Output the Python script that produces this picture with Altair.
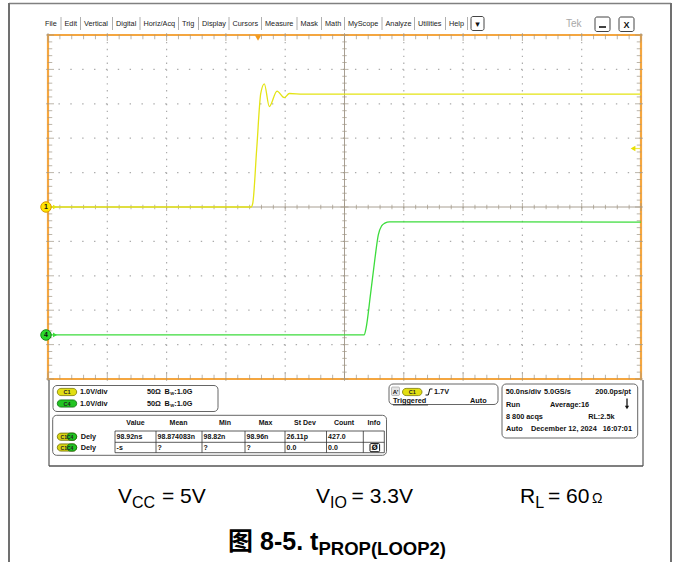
import altair as alt
import pandas as pd

# ---------------- data ----------------
c1_time_ns = [0, 171.2, 172.6, 176.0, 179.4, 182.4, 186.6, 193.1, 199.2, 203.5, 215.0, 500.0]
c1_volts = [0.0, 0.0, 0.1, 1.7, 3.3, 3.58, 2.92, 3.37, 3.18, 3.30, 3.28, 3.28]
c4_time_ns = [0, 266.5, 268.2, 272.0, 275.7, 278.5, 281.3, 284.0, 288.0, 500.0]
c4_volts = [0.0, 0.0, 0.2, 1.2, 2.23, 2.91, 3.17, 3.25, 3.29, 3.28]
channel_ids = ["1", "4"]
channel_ground_div = [0.0, -3.72]
trigger_time_ns = 177.1
trigger_level_v = 1.7

menu_items = ["File", "Edit", "Vertical", "Digital", "Horiz/Acq", "Trig", "Display",
              "Cursors", "Measure", "Mask", "Math", "MyScope", "Analyze", "Utilities", "Help"]
meas_headers = ["Value", "Mean", "Min", "Max", "St Dev", "Count", "Info"]
meas_row1 = ["98.92ns", "98.874083n", "98.82n", "98.96n", "26.11p", "427.0"]
meas_row2 = ["-s", "?", "?", "?", "0.0", "0.0"]

# ---------------- layout / style (not data) ----------------
PL, PT, W, H = 48, 35, 593, 344
SANS = "Liberation Sans, Arial, sans-serif"
CJK = "Noto Sans CJK SC"
YEL, GRN = "#E4E414", "#3CDC3C"
ORANGE = "#F4A640"
TICK = "#a09685"
GRIDC = "#ababab"
XS = alt.Scale(domain=[0, 500], nice=False, zero=False)
YS = alt.Scale(domain=[-5, 5], nice=False, zero=False)
CH_COL = alt.Scale(domain=channel_ids, range=[YEL, GRN])

off = dict(zip(channel_ids, channel_ground_div))
tr = pd.DataFrame({
    "t": c1_time_ns + c4_time_ns,
    "v": c1_volts + c4_volts,
    "ch": ["1"] * len(c1_time_ns) + ["4"] * len(c4_time_ns),
})
tr["y"] = tr["v"] + tr["ch"].map(off)

xt = pd.DataFrame({"t": list(range(0, 501, 10))})
xt["len"] = [8 if t % 50 == 0 else 4.5 for t in xt["t"]]
xt["top"], xt["bot"], xt["mid"] = 5, -5, 0
yt = pd.DataFrame({"y": [round(-5 + 0.2 * i, 1) for i in range(51)]})
yt["len"] = [8 if abs(v - round(v)) < 1e-6 else 4.5 for v in yt["y"]]
yt["left"], yt["right"], yt["mid"] = 0, 500, 250

X_ = lambda f: alt.X(f, scale=XS, axis=None)
Y_ = lambda f: alt.Y(f, scale=YS, axis=None)

plot_layers = []
# dotted graticule
plot_layers.append(alt.Chart(pd.DataFrame({"t": [50 * i for i in range(1, 10) if i != 5]}))
                   .mark_rule(color=GRIDC, strokeWidth=1.2, strokeDash=[1.4, 5.48])
                   .encode(x=X_("t:Q")))
plot_layers.append(alt.Chart(pd.DataFrame({"y": [-4, -3, -2, -1, 1, 2, 3, 4]}))
                   .mark_rule(color=GRIDC, strokeWidth=1.2, strokeDash=[1.4, 10.46])
                   .encode(y=Y_("y:Q")))
# center cross
plot_layers.append(alt.Chart(pd.DataFrame({"t": [250]})).mark_rule(color="#a89f92", strokeWidth=1)
                   .encode(x=X_("t:Q")))
plot_layers.append(alt.Chart(pd.DataFrame({"y": [0]})).mark_rule(color="#a89f92", strokeWidth=1)
                   .encode(y=Y_("y:Q")))
# tick marks on the center cross
plot_layers.append(alt.Chart(xt).mark_tick(orient="vertical", thickness=1, color=TICK)
                   .encode(x=X_("t:Q"), y=Y_("mid:Q"), size=alt.Size("len:Q", scale=None)))
plot_layers.append(alt.Chart(yt).mark_tick(orient="horizontal", thickness=1, color=TICK)
                   .encode(x=X_("mid:Q"), y=Y_("y:Q"), size=alt.Size("len:Q", scale=None)))
# tick marks on the edges
plot_layers.append(alt.Chart(xt).mark_tick(orient="vertical", thickness=1, color=TICK, yOffset=2)
                   .encode(x=X_("t:Q"), y=Y_("top:Q"), size=alt.Size("len:Q", scale=None)))
plot_layers.append(alt.Chart(xt).mark_tick(orient="vertical", thickness=1, color=TICK, yOffset=-2)
                   .encode(x=X_("t:Q"), y=Y_("bot:Q"), size=alt.Size("len:Q", scale=None)))
plot_layers.append(alt.Chart(yt).mark_tick(orient="horizontal", thickness=1, color=TICK, xOffset=2)
                   .encode(x=X_("left:Q"), y=Y_("y:Q"), size=alt.Size("len:Q", scale=None)))
plot_layers.append(alt.Chart(yt).mark_tick(orient="horizontal", thickness=1, color=TICK, xOffset=-2)
                   .encode(x=X_("right:Q"), y=Y_("y:Q"), size=alt.Size("len:Q", scale=None)))

# traces
plot_layers.append(alt.Chart(tr).mark_line(interpolate="monotone", strokeWidth=1.3)
                   .encode(x=X_("t:Q"), y=Y_("y:Q"),
                           color=alt.Color("ch:N", scale=CH_COL, legend=None)))

# channel ground markers
chdf = pd.DataFrame({"ch": channel_ids, "y": channel_ground_div, "t": [0, 0]})
plot_layers.append(alt.Chart(chdf).mark_point(shape="triangle-right", filled=True, size=22, xOffset=7, opacity=1)
                   .encode(x=X_("t:Q"), y=Y_("y:Q"),
                           color=alt.Color("ch:N", scale=CH_COL, legend=None)))
plot_layers.append(alt.Chart(chdf).mark_point(shape="circle", filled=True, size=110, xOffset=-2,
                                               strokeWidth=1, opacity=1)
                   .encode(x=X_("t:Q"), y=Y_("y:Q"),
                           fill=alt.Fill("ch:N", scale=alt.Scale(domain=channel_ids, range=["#FFE600", "#2BD92B"]), legend=None),
                           stroke=alt.Stroke("ch:N", scale=alt.Scale(domain=channel_ids, range=["#D99A00", "#178A17"]), legend=None)))
plot_layers.append(alt.Chart(chdf).mark_text(fontSize=7, fontWeight="bold", xOffset=-2, color="#111", font=SANS)
                   .encode(x=X_("t:Q"), y=Y_("y:Q"), text="ch:N"))

# trigger position (top) and trigger level (right)
trg = pd.DataFrame({"t": [trigger_time_ns], "top": [5], "lv": [trigger_level_v], "r": [500]})
plot_layers.append(alt.Chart(trg).mark_point(shape="triangle-down", filled=True, size=40, yOffset=3,
                                              color="#F29A1E", opacity=1)
                   .encode(x=X_("t:Q"), y=Y_("top:Q")))
plot_layers.append(alt.Chart(trg).mark_point(shape="triangle-left", filled=True, size=30, xOffset=-8,
                                              color="#E8E000", opacity=1)
                   .encode(x=X_("r:Q"), y=Y_("lv:Q")))
plot_layers.append(alt.Chart(trg).mark_tick(orient="horizontal", size=7, thickness=1.2, xOffset=-4,
                                             color="#E8E000")
                   .encode(x=X_("r:Q"), y=Y_("lv:Q")))

# ---------------- chrome around the scope ----------------
dummy = pd.DataFrame({"k": [0]})
chrome = []


def X(px):
    return alt.value(px - PL)


def Y(py):
    return alt.value(py - PT)


def T(s, x, y, size=7.3, bold=True, align="left", color="#111", font=SANS, baseline="middle"):
    chrome.append(alt.Chart(dummy).mark_text(
        text=s, fontSize=size, fontWeight="bold" if bold else "normal", align=align,
        baseline=baseline, color=color, font=font).encode(x=X(x), y=Y(y)))


def B(x1, y1, x2, y2, fill=None, stroke="#555", sw=1.0, r=0):
    props = dict(stroke=stroke, strokeWidth=sw, cornerRadius=r)
    if fill is None:
        props.update(fill="white", fillOpacity=0)
    else:
        props.update(fill=fill)
    chrome.append(alt.Chart(dummy).mark_rect(**props).encode(x=X(x1), x2=X(x2), y=Y(y1), y2=Y(y2)))


def L(x1, y1, x2, y2, color="#555", w=1.0):
    chrome.append(alt.Chart(dummy).mark_rule(color=color, strokeWidth=w)
                  .encode(x=X(x1), x2=X(x2), y=Y(y1), y2=Y(y2)))


def badge(x1, x2, yc, fill, stroke, label, size=5.5):
    B(x1, yc - 3.6, x2, yc + 3.6, fill, stroke, 0.8, 3.6)
    T(label, (x1 + x2) / 2, yc + 0.3, size=size, align="center", color="#222")


# outer page frame
L(9, 3.5, 671, 3.5, "#808080", 1.5)
L(9, 3, 9, 562, "#707070", 2)
L(671, 3, 671, 562, "#707070", 2)

# menu bar
menu_x = [45, 64.5, 84, 116, 143.5, 182, 202, 232.5, 265, 300.5, 325, 348, 385.5, 418, 449]
for i, (m, mx) in enumerate(zip(menu_items, menu_x)):
    T(m, mx, 23.5, size=7.3, bold=False, color="#222")
    if i > 0:
        L(mx - 3.5, 17, mx - 3.5, 30, "#9a9a9a", 0.8)
L(467.5, 17, 467.5, 30, "#9a9a9a", 0.8)
B(471, 16.5, 484, 30.5, "white", "#444", 1, 2)
T("▾", 477.5, 23.5, size=9, align="center", font="DejaVu Sans")
T("Tek", 566, 24, size=10, bold=False, color="#a8a8a8")
B(595, 17, 610, 31.5, "white", "#444", 1, 2)
L(599, 27, 606, 27, "#111", 1.6)
B(619, 17, 634, 31.5, "white", "#444", 1, 2)
T("X", 626.5, 24.5, size=9, align="center")

# bottom panel frame
L(49, 380, 49, 466, "#555", 1.2)
L(643, 380, 643, 466, "#555", 1.2)
L(49, 466, 643, 466, "#555", 1.5)

# channel settings box
B(53, 385.5, 218, 411.5, None, "#666", 1, 4)
for yc, col, stc, lab in [(392, "#E2DE12", "#7c7a00", "C1"), (403.5, "#22C422", "#0b6b0b", "C4")]:
    badge(57.3, 76.7, yc, col, stc, lab)
    T("1.0V/div", 80, yc)
    T("50Ω", 147, yc)
    T("B", 164.5, yc)
    T("W", 170.3, yc + 2.2, size=4.2)
    T(":1.0G", 174.2, yc)

# measurement box
B(52.7, 415.3, 386.5, 455.3, None, "#666", 1, 4)
for h, cx in zip(meas_headers, [135.5, 178.5, 225, 265.5, 305, 344, 374]):
    T(h, cx, 423.3, align="center", size=7)
col_edges = [115, 156, 202, 245, 285, 326.5, 363.3, 384.3]
B(115, 431, 384.3, 452.7, "white", "#333", 0.8)
L(115, 442.3, 384.3, 442.3, "#333", 0.8)
for ce in col_edges[1:-1]:
    L(ce, 431, ce, 452.7, "#333", 0.8)
for row, yc in [(meas_row1, 436.7), (meas_row2, 447.5)]:
    B(57.3, yc - 3.6, 76.7, yc + 3.6, "#D8D414", "#6d6b00", 0.8, 3.6)
    B(67, yc - 3.6, 76.7, yc + 3.6, "#22C422", "#0b6b0b", 0.8, 3.6)
    T("C1C4", 67, yc + 0.3, size=5, align="center", color="#222")
    T("Dely", 80.7, yc)
    for val, ce in zip(row, col_edges):
        T(val, ce + 1.6, yc, size=7)
B(370, 443.6, 379.6, 451.7, "white", "#111", 1, 1)
T("Ø", 374.8, 447.8, size=7.5, align="center", font="DejaVu Sans")

# trigger box
B(389, 384, 498, 404.5, None, "#666", 1, 4)
B(391.5, 387, 399.5, 395.5, "#e4e4e4", "#999", 0.6, 1)
T("A'", 395.5, 391.5, size=6, align="center")
badge(402.5, 422, 392, "#E2DE12", "#7c7a00", "C1")
L(425.5, 395, 428.3, 395, "#111", 1)
L(428.3, 395, 429.8, 389, "#111", 1)
L(429.8, 389, 432.5, 389, "#111", 1)
T("1.7V", 434, 392)
T("Triggered", 393, 401.3)
L(393, 405, 428, 405, "#111", 0.7)
T("Auto", 470, 401.3)

# horizontal / acquisition box
B(502, 384, 637.7, 438, None, "#666", 1, 4)
T("50.0ns/div", 505.7, 392)
T("5.0GS/s", 544, 392)
T("200.0ps/pt", 631, 392, align="right")
T("Run", 506, 404.5)
T("Average:16", 550, 404.5)
L(627, 398.5, 627, 406, "#111", 1.3)
chrome.append(alt.Chart(dummy).mark_point(shape="triangle-down", filled=True, size=18, color="#111", opacity=1)
              .encode(x=X(627), y=Y(407.5)))
T("8 800 acqs", 506, 416.5)
T("RL:2.5k", 614.5, 416.5, align="right")
T("Auto", 506, 429)
T("December 12, 2024", 531, 429)
T("16:07:01", 632, 429, align="right")

# caption line
F, S = 21, 16
T("V", 118, 503, size=F, bold=False, color="#000", baseline="alphabetic")
T("CC", 132, 508, size=S, bold=False, color="#000", baseline="alphabetic")
T("= 5V", 162, 503, size=F, bold=False, color="#000", baseline="alphabetic")
T("V", 316, 503, size=F, bold=False, color="#000", baseline="alphabetic")
T("IO", 330, 508, size=S, bold=False, color="#000", baseline="alphabetic")
T("= 3.3V", 351.6, 503, size=F, bold=False, color="#000", baseline="alphabetic")
T("R", 520, 503, size=F, bold=False, color="#000", baseline="alphabetic")
T("L", 535.2, 508, size=S, bold=False, color="#000", baseline="alphabetic")
T("= 60", 548, 503, size=F, bold=False, color="#000", baseline="alphabetic")
T("Ω", 592, 503, size=14, bold=False, color="#000", baseline="alphabetic")

# figure title
T("图", 228, 550, size=25, bold=True, color="#000", font=CJK, baseline="alphabetic")
T("8-5. t", 260, 550, size=25, bold=True, color="#000", baseline="alphabetic")
T("PROP(LOOP2)", 318.5, 555, size=18.5, bold=True, color="#000", baseline="alphabetic")

chart = (
    alt.layer(*plot_layers, *chrome)
    .properties(width=W, height=H,
                padding={"left": PL, "top": PT, "right": 678 - PL - W, "bottom": 562 - PT - H},
                autosize=alt.AutoSizeParams(type="none"), background="white")
    .configure_view(stroke=ORANGE, strokeWidth=2.2)
)
chart.save("out.html", embed_options={"renderer": "svg", "actions": False})
